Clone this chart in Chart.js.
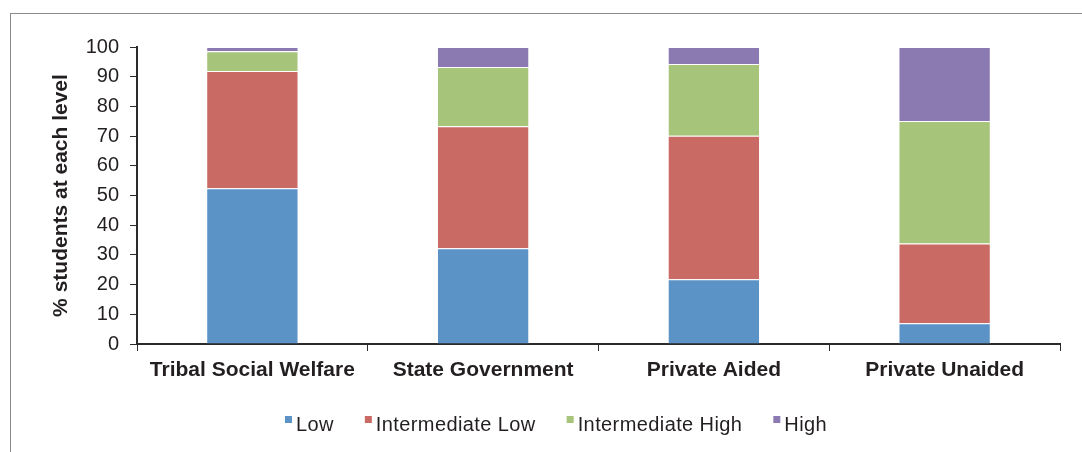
<!DOCTYPE html>
<html>
<head>
<meta charset="utf-8">
<script src="https://cdn.jsdelivr.net/npm/chart.js@4"></script>
<style>
    body { margin: 0; background: #fff; }
    #wrap { position: relative; width: 1082px; height: 452px; }
    #frame { position: absolute; left: 10px; top: 13px; right: 0; bottom: -5px;
             border-left: 1px solid #8c8c8c; border-top: 1px solid #8c8c8c; }
    canvas { position: absolute; left: 0; top: 0; }
</style>
</head>
<body>
<div id="wrap">
    <div id="frame"></div>
    <canvas id="chart" width="1082" height="452"></canvas>
</div>
<script>
const categories = ['Tribal Social Welfare', 'State Government', 'Private Aided', 'Private Unaided'];
const lowValues = [52.4, 32.2, 21.8, 7.0];
const intermediateLowValues = [39.5, 41.1, 48.3, 26.8];
const intermediateHighValues = [6.7, 20.0, 24.2, 41.3];
const highValues = [1.4, 6.7, 5.7, 24.9];
const yTicks = [0, 10, 20, 30, 40, 50, 60, 70, 80, 90, 100];

const textColor = '#231f20';
const axisColor = '#2b2b2b';

function series(label, data, color) {
    return {
        label: label,
        data: data,
        backgroundColor: color,
        borderColor: 'rgba(255,255,255,0.35)',
        borderWidth: 1,
        categoryPercentage: 1.0,
        barPercentage: 0.4
    };
}

// legend drawn by hand: small square sitting high, text right next to it
const smallLegend = {
    id: 'smallLegend',
    afterDraw(chart) {
        const ctx = chart.ctx;
        const box = 7, gap = 4, itemGap = 31, baseline = 431, centerX = 556;
        ctx.save();
        ctx.font = '20px "Liberation Sans"';
        ctx.letterSpacing = '0.4px';
        ctx.textBaseline = 'alphabetic';
        const items = chart.data.datasets.map(ds => ({
            label: ds.label, color: ds.backgroundColor,
            w: ctx.measureText(ds.label).width
        }));
        const total = items.reduce((s, it) => s + box + gap + it.w, 0) + itemGap * (items.length - 1);
        let x = centerX - total / 2;
        items.forEach(it => {
            ctx.fillStyle = it.color;
            ctx.fillRect(x, baseline - 15, box, box);
            ctx.fillStyle = textColor;
            ctx.fillText(it.label, x + box + gap, baseline);
            x += box + gap + it.w + itemGap;
        });
        ctx.restore();
    }
};

new Chart(document.getElementById('chart').getContext('2d'), {
    type: 'bar',
    data: {
        labels: categories,
        datasets: [
            series('Low', lowValues, '#5b93c7'),
            series('Intermediate Low', intermediateLowValues, '#c96a64'),
            series('Intermediate High', intermediateHighValues, '#a6c57a'),
            series('High', highValues, '#8b79b1')
        ]
    },
    options: {
        responsive: false,
        animation: false,
        layout: { padding: { top: 47, right: 22, bottom: 48, left: 0 } },
        scales: {
            x: {
                stacked: true,
                grid: { display: true, drawOnChartArea: false, drawTicks: true, tickLength: 7, color: axisColor, offset: true },
                border: { display: true, color: axisColor, width: 2 },
                ticks: { color: textColor, padding: 7, maxRotation: 0, font: { family: 'Liberation Sans', size: 21, weight: 'bold' } },
                afterFit: scale => { scale.height = 60; }
            },
            y: {
                stacked: true,
                min: 0,
                max: 100,
                afterBuildTicks: scale => { scale.ticks = yTicks.map(v => ({ value: v })); },
                grid: { display: true, drawOnChartArea: false, drawTicks: true, tickLength: 7, color: axisColor },
                border: { display: true, color: axisColor, width: 2 },
                ticks: { color: textColor, padding: 11, font: { family: 'Liberation Sans', size: 20 } },
                title: {
                    display: true,
                    text: '% students at each level',
                    color: textColor,
                    padding: { top: 49, bottom: 0 },
                    font: { family: 'Liberation Sans', size: 21, weight: 'bold' }
                },
                afterFit: scale => { scale.width = 137; }
            }
        },
        plugins: {
            legend: { display: false },
            tooltip: { enabled: false }
        }
    },
    plugins: [smallLegend]
});
</script>
</body>
</html>
